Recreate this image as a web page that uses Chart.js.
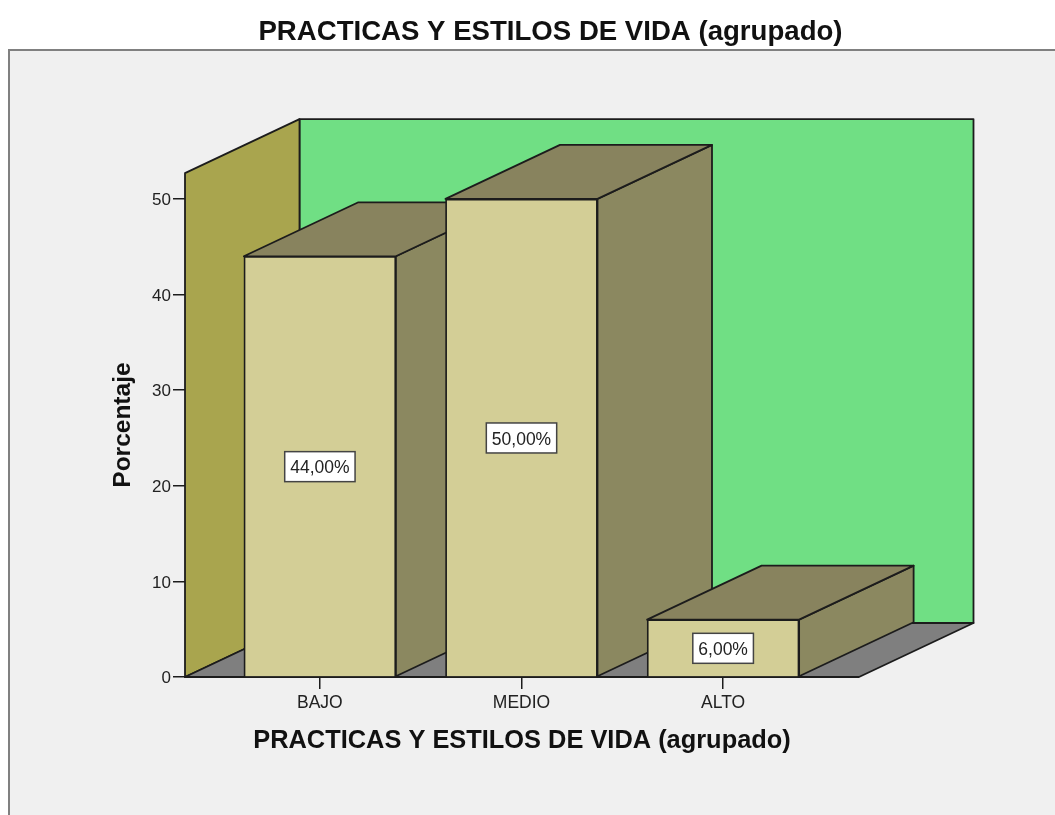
<!DOCTYPE html>
<html>
<head>
<meta charset="utf-8">
<title>PRACTICAS Y ESTILOS DE VIDA (agrupado)</title>
<script src="https://cdn.jsdelivr.net/npm/chart.js@4"></script>
<style>
  html, body { margin: 0; padding: 0; background: #fff; overflow: hidden; }
  canvas { display: block; }
</style>
</head>
<body>
<canvas id="chart" width="1055" height="815"></canvas>
<script>
const chartTitle = 'PRACTICAS Y ESTILOS DE VIDA (agrupado)';
const yTitle = 'Porcentaje';
const categories = ['BAJO', 'MEDIO', 'ALTO'];
const percentages = [44, 50, 6];
const yTicks = [0, 10, 20, 30, 40, 50];
const yMax = 52.7;

const FONT = '"Liberation Sans", Arial, sans-serif';
const DEPTH_X = 114.5;
const DEPTH_Y = 54;
const INK = '#1c1c1c';

const polygon = (ctx, points, fill) => {
    ctx.beginPath();
    points.forEach(([x, y], i) => (i ? ctx.lineTo(x, y) : ctx.moveTo(x, y)));
    ctx.closePath();
    ctx.fillStyle = fill;
    ctx.fill();
    ctx.stroke();
};

const box3d = {
    id: 'box3d',
    afterLayout(chart) {
        // the title sits centred on the panel, not on the plot
        chart.titleBlock.left = 242;
    },
    beforeDraw(chart) {
        const { ctx } = chart;
        ctx.save();
        ctx.fillStyle = '#f0f0f0';
        ctx.strokeStyle = '#808080';
        ctx.lineWidth = 2;
        ctx.fillRect(9, 50, 1060, 780);
        ctx.strokeRect(9, 50, 1060, 780);
        ctx.restore();
    },
    beforeDatasetsDraw(chart) {
        const { ctx, chartArea: { left, right, top, bottom } } = chart;
        ctx.save();
        ctx.lineWidth = 1.8;
        ctx.lineJoin = 'round';
        ctx.strokeStyle = INK;

        polygon(ctx, [[left + DEPTH_X, top - DEPTH_Y], [right + DEPTH_X, top - DEPTH_Y], [right + DEPTH_X, bottom - DEPTH_Y], [left + DEPTH_X, bottom - DEPTH_Y]], '#70df84');
        polygon(ctx, [[left, bottom], [left, top], [left + DEPTH_X, top - DEPTH_Y], [left + DEPTH_X, bottom - DEPTH_Y]], '#a9a54e');
        polygon(ctx, [[left, bottom], [right, bottom], [right + DEPTH_X, bottom - DEPTH_Y], [left + DEPTH_X, bottom - DEPTH_Y]], '#7f7f7f');

        chart.getDatasetMeta(0).data.forEach((bar) => {
            const l = bar.x - bar.width / 2;
            const r = bar.x + bar.width / 2;
            polygon(ctx, [[r, bar.y], [r + DEPTH_X, bar.y - DEPTH_Y], [r + DEPTH_X, bar.base - DEPTH_Y], [r, bar.base]], '#8b8860');
            polygon(ctx, [[l, bar.y], [l + DEPTH_X, bar.y - DEPTH_Y], [r + DEPTH_X, bar.y - DEPTH_Y], [r, bar.y]], '#88835e');
        });
        ctx.restore();
    },
    afterDatasetsDraw(chart) {
        const { ctx } = chart;
        const yScale = chart.scales.y;
        ctx.save();
        ctx.font = '17.5px ' + FONT;
        ctx.textAlign = 'center';
        ctx.textBaseline = 'middle';
        chart.getDatasetMeta(0).data.forEach((bar, i) => {
            const text = percentages[i].toFixed(2).replace('.', ',') + '%';
            const cy = yScale.getPixelForValue(percentages[i] / 2);
            const w = ctx.measureText(text).width + 11;
            const h = 30;
            ctx.fillStyle = '#fff';
            ctx.strokeStyle = '#444';
            ctx.lineWidth = 1.5;
            ctx.fillRect(bar.x - w / 2, cy - h / 2, w, h);
            ctx.strokeRect(bar.x - w / 2, cy - h / 2, w, h);
            ctx.fillStyle = '#222';
            ctx.fillText(text, bar.x, cy + 2);
        });
        ctx.restore();
    }
};

new Chart(document.getElementById('chart'), {
    type: 'bar',
    data: {
        datasets: [{
            data: percentages.map((v, i) => ({ x: i, y: v })),
            backgroundColor: '#d3ce96',
            borderColor: INK,
            borderWidth: 1.8,
            barThickness: 152,
            clip: false
        }]
    },
    plugins: [box3d],
    options: {
        responsive: false,
        animation: false,
        layout: { padding: { left: 0, right: 196, top: 0, bottom: 0 } },
        plugins: {
            legend: { display: false },
            tooltip: { enabled: false },
            title: {
                display: true,
                text: chartTitle,
                color: '#111',
                font: { family: FONT, size: 27.6, weight: 'bold', lineHeight: 1.2 },
                padding: { top: 16, bottom: 124 }
            }
        },
        scales: {
            x: {
                type: 'linear',
                offset: false,
                min: -0.669,
                max: 2.674,
                afterFit: (s) => { s.height = 138; },
                afterBuildTicks: (s) => { s.ticks = categories.map((c, i) => ({ value: i })); },
                grid: { offset: false, drawOnChartArea: false, color: INK, lineWidth: 1.5, tickLength: 12 },
                border: { display: false },
                ticks: {
                    autoSkip: false,
                    maxRotation: 0,
                    padding: 4,
                    color: '#222',
                    font: { family: FONT, size: 17.5 },
                    callback: (v) => categories[v]
                },
                title: {
                    display: true,
                    text: chartTitle,
                    color: '#111',
                    font: { family: FONT, size: 25.4, weight: 'bold', lineHeight: 1.2 },
                    padding: { top: 0, bottom: 59 }
                }
            },
            y: {
                min: 0,
                max: yMax,
                afterFit: (s) => { s.width = 185; },
                afterBuildTicks: (s) => { s.ticks = yTicks.map((v) => ({ value: v })); },
                grid: { drawOnChartArea: false, color: INK, lineWidth: 1.5, tickLength: 12 },
                border: { display: false },
                ticks: {
                    padding: 2,
                    labelOffset: 1.5,
                    color: '#222',
                    font: { family: FONT, size: 17 },
                    callback: (v) => String(v)
                },
                title: {
                    display: true,
                    text: yTitle,
                    color: '#111',
                    font: { family: FONT, size: 24.5, weight: 'bold', lineHeight: 1.2 },
                    padding: { top: 109, bottom: 0 }
                }
            }
        }
    }
});
</script>
</body>
</html>
